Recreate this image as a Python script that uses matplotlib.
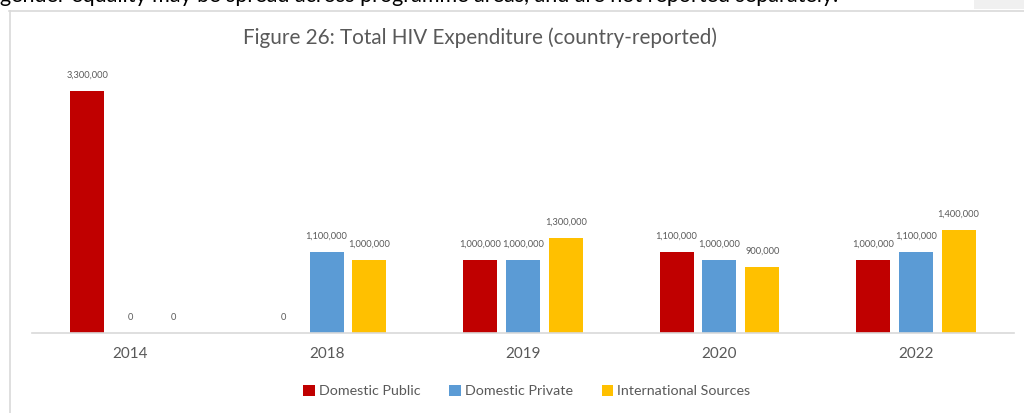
import numpy as np
import matplotlib.pyplot as plt
from matplotlib.patches import Rectangle
from matplotlib.lines import Line2D

years = ["2014", "2018", "2019", "2020", "2022"]
domestic_public = [3300000, 0, 1000000, 1100000, 1000000]
domestic_private = [0, 1100000, 1000000, 1000000, 1100000]
international = [0, 1000000, 1300000, 900000, 1400000]
series_names = ["Domestic Public", "Domestic Private", "International Sources"]
colors = ["#C00000", "#5B9BD5", "#FFC000"]

plt.rcParams['font.family'] = ['Lato', 'DejaVu Sans']
W, H = 1024, 413
fig = plt.figure(figsize=(W / 100, H / 100), dpi=100)

def fx(px):
    return px / W

def fy(py):
    return 1 - py / H

# page text above the chart frame (runs off the top edge)
fig.text(fx(0), fy(2), "gender equality may be spread across programme areas, and are not reported separately.",
         fontsize=15.5, color="black", va="baseline", ha="left")
fig.patches.append(Rectangle((fx(974), fy(9)), fx(50), 9 / H, transform=fig.transFigure,
                             facecolor="#F0F0F0", edgecolor="none"))
# chart frame
fig.lines.append(Line2D([fx(9), 1], [fy(10.5), fy(10.5)], transform=fig.transFigure, color="#D9D9D9", lw=1.2))
fig.lines.append(Line2D([fx(9.5), fx(9.5)], [fy(10.5), 0], transform=fig.transFigure, color="#D9D9D9", lw=1.2))

base, top = 333, 60
ax = fig.add_axes([fx(32), fy(base), fx(1014) - fx(32), (base - top) / H])
ymax = 3300000 * (base - top) / (base - 91)
ax.set_ylim(0, ymax)
ax.set_xlim(-0.5, len(years) - 0.5)

x = np.arange(len(years))
step, width = 0.218, 0.173
data = [domestic_public, domestic_private, international]
for i, (vals, c, name) in enumerate(zip(data, colors, series_names)):
    pos = x + (i - 1) * step
    ax.bar(pos, vals, width=width, color=c, label=name)
    for p, v in zip(pos, vals):
        ax.annotate(f"{v:,}", (p, v), xytext=(0, 11.5), textcoords="offset points",
                    ha="center", va="center", fontsize=6.7, color="#595959")

for s in ["top", "right", "left"]:
    ax.spines[s].set_visible(False)
ax.spines["bottom"].set_color("#D9D9D9")
ax.spines["bottom"].set_linewidth(1.2)
ax.set_yticks([])
ax.set_xticks(x)
ax.set_xticklabels(years, fontsize=11, color="#595959")
ax.tick_params(axis="x", length=0, pad=10)

fig.text(fx(480), fy(38), "Figure 26: Total HIV Expenditure (country-reported)",
         fontsize=14.9, color="#595959", ha="center", va="center")

handles, labels = ax.get_legend_handles_labels()
fig.legend(handles, labels, loc="center", bbox_to_anchor=(fx(527), fy(391)), ncol=3,
           frameon=False, fontsize=10.3, labelcolor="#595959", handlelength=0.8, handleheight=0.8,
           handletextpad=0.3, columnspacing=2.0)

fig.savefig("out.png", dpi=100)
